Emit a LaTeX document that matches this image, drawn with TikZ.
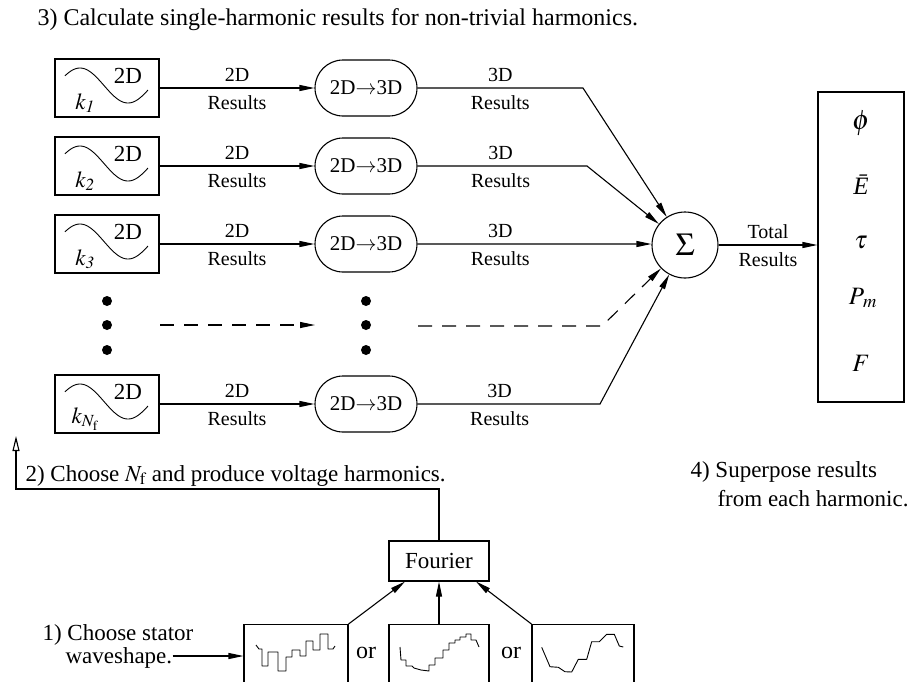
\documentclass[tikz,border=0pt]{standalone}
\usepackage{mathptmx}
\usepackage{fontspec}
\setmainfont{Liberation Serif}
\usetikzlibrary{arrows.meta,shapes.misc,calc}

\begin{document}
\begin{tikzpicture}[x=1pt,y=-1pt,line width=1.1pt,
  every node/.style={font=\fontsize{20}{24}\selectfont,inner sep=0pt},
  steptext/.style={font=\fontsize{23}{27}\selectfont,anchor=base west},
  big/.style={font=\fontsize{23}{27}\selectfont},
  harmbox/.style={draw,minimum width=104pt,minimum height=58pt},
  convbox/.style={draw,rounded rectangle,minimum width=102pt,minimum height=56pt,
    font=\fontsize{21}{25}\selectfont},
  wavebox/.style={draw,minimum height=80pt,anchor=north},
  flow/.style={-{Triangle[length=15pt,width=6pt]}},
  dashflow/.style={flow,dash pattern=on 14pt off 10pt},
  trace/.style={line width=0.9pt,line join=round},
  sym/.style={font=\fontsize{25}{30}\selectfont}]

\useasboundingbox (0,0) rectangle (910,681);
\clip (0,0) rectangle (910,681);

% step 3: one row per harmonic
\node[steptext,font=\fontsize{24}{28}\selectfont] (title) at (37,25)
  {3) Calculate single-harmonic results for non-trivial harmonics.};

\foreach \i/\yy/\lab in {1/88/{k_{\mathit{1}}},2/166/{k_{\mathit{2}}},3/244/{k_{\mathit{3}}},N/404/{k_{N_\mathrm{f}}}}{
  \node[harmbox] (k\i) at (107,\yy) {};
  \draw[trace,shift={(k\i.center)}] plot[domain=-42:41,samples=60,smooth]
    (\x,{-2.5-17.5*sin(3.75*(\x+51))});
  \node[big] (tag\i) at ($(k\i.center)+(21,-12)$) {2D};
  \node[big] (kl\i) at ($(k\i.center)+(-22,15)$) {$\lab$};
  \node[convbox] (c\i) at (366,\yy) {2D$\to$3D};
  \draw[flow] (k\i) -- node[above=6pt]{2D} node[below=7pt]{Results} (c\i);
}

% summation and totals
\node[draw,circle,minimum size=66pt,font=\fontsize{32}{34}\selectfont] (sum) at (685,245) {$\Sigma$};
\node[draw,minimum width=86pt,minimum height=310pt] (res) at (861,247) {};
\node[sym,font=\fontsize{28}{32}\selectfont] (phi) at (861,123) {$\phi$};
\node[sym] (emf) at (861,185) {\textit{Ē}};
\node[sym] (tau) at (861,243) {$\tau$};
\node[sym] (pm)  at (863,298) {$P_{\,m}$};
\node[sym] (frc) at (861,363) {$F$};

\coordinate (b1) at (583,88);
\coordinate (b2) at (587,166);
\coordinate (b3) at (583,244);
\coordinate (bN) at (600,404);
\draw[flow] (c1) -- node[above=6pt]{3D} node[below=7pt]{Results} (b1) -- (sum);
\draw[flow] (c2) -- node[pos=0.49,above=6pt]{3D} node[pos=0.49,below=7pt]{Results} (b2) -- (sum);
\draw[flow] (c3) -- node[above=6pt]{3D} node[below=7pt]{Results} (b3) -- (b3 -| sum.west);
\draw[flow] (cN) -- node[pos=0.45,above=6pt]{3D} node[pos=0.45,below=7pt]{Results} (bN) -- (sum);

% the omitted harmonics
\foreach \yy in {301,325,350}{
  \fill (107,\yy) circle (5pt);
  \fill (366,\yy) circle (5pt);
}
\coordinate (d1) at (160,325);
\coordinate (d2) at (315,325);
\coordinate (d3) at (418,326);
\coordinate (d4) at (602,326);
\draw[dashflow] (d1) -- (d2);
\draw[dashflow] (d3) -- (d4) -- (sum);

\draw[flow] (sum) -- node[above=6pt]{Total} node[below=7pt]{Results} (sum -| res.west);

% step 4
\node[steptext] (s4a) at (690,477) {4) Superpose results};
\node[steptext] (s4b) at (717,506) {from each harmonic.};

% steps 1 and 2
\node[draw,minimum width=100pt,minimum height=40pt,big] (four) at (439,561) {Fourier};
\coordinate (fb) at (16,489);
\coordinate (fbtip) at (16,436);
\draw[-{Triangle[open,length=15pt,width=7pt]}] (four.north) |- (fb) -- (fbtip);
\node[steptext] (s2) at (25,481) {2) Choose $N_\mathrm{f}$ and produce voltage harmonics.};

\node[wavebox,minimum width=104pt] (w1) at (296,624) {};
\node[wavebox,minimum width=100pt] (w2) at (439,624) {};
\node[wavebox,minimum width=102pt] (w3) at (583,624) {};
\node[font=\fontsize{24}{28}\selectfont] (or1) at (366,653) {or};
\node[font=\fontsize{24}{28}\selectfont] (or2) at (511,653) {or};

\draw[flow] (w1.north east) -- ([xshift=-34pt]four.south);
\draw[flow] (w2.north) -- (four.south);
\draw[flow] (w3.north west) -- ([xshift=37pt]four.south);

\node[steptext] (s1a) at (42,640) {1) Choose stator};
\node[steptext] (s1b) at (65,663) {waveshape.};
\draw[flow] ([yshift=7pt]s1b.base east) -- ([yshift=7pt]s1b.base east -| w1.west);

% candidate stator waveshapes
\draw[trace] (256,645) -- (259,649) -- (262,649) -- (262,666) -- (268,666) -- (268,652)
  -- (278,652) -- (278,671) -- (286,671) -- (286,657) -- (292,657) -- (292,650)
  -- (300,650) -- (300,656) -- (306,656) -- (306,641) -- (313,641) -- (313,650)
  -- (320,650) -- (320,634) -- (328,634) -- (328,649) -- (333,649) -- (335,646);
\draw[trace] (400,647) -- (401,660) -- (406,660) -- (406,666) -- (412,666) -- (414,668)
  -- (421,670) -- (429,671) -- (429,665) -- (435,665) -- (435,658) -- (443,658)
  -- (443,650) -- (449,650) -- (449,643) -- (455,643) -- (455,640) -- (460,640)
  -- (460,637) -- (466,637) -- (466,634) -- (471,634) -- (471,640) -- (476,640)
  -- (479,647);
\draw[trace] (541.7,647.3) -- (550,666.7) -- (558.3,667.3) -- (565,671.7) -- (571.7,672)
  -- (578.3,659.3) -- (586.7,659.3) -- (591.7,641.7) -- (599.3,641.7) -- (606.7,634.3)
  -- (614.3,634.3) -- (619.3,646) -- (623.3,647);
\end{tikzpicture}
\end{document}
